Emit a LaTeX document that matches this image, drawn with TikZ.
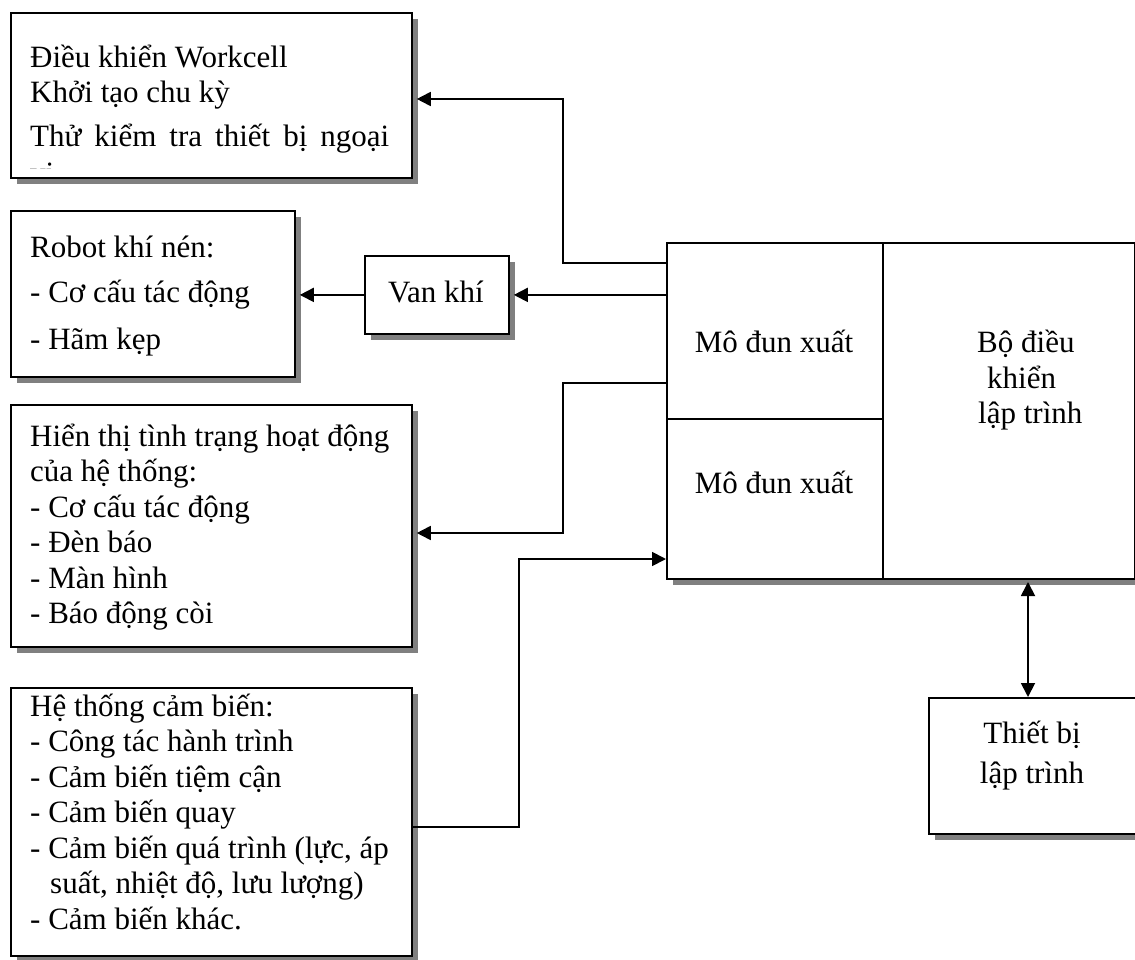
\documentclass[tikz,border=0pt]{standalone}
\usepackage{fontspec}
\setmainfont{Liberation Serif}
\usetikzlibrary{arrows.meta,shadows}
\definecolor{shadowgray}{HTML}{808080}
\begin{document}
\begin{tikzpicture}[x=1pt,y=-1pt,
  every node/.style={font=\fontsize{31}{36}\selectfont},
  box/.style={draw, line width=1.8pt, fill=white, inner sep=0pt, anchor=north west,
    drop shadow={opacity=1, fill=shadowgray, shadow xshift=6pt, shadow yshift=-6pt}},
  cell/.style={draw, line width=1.8pt, inner sep=0pt, anchor=north west},
  t/.style={anchor=base west, inner sep=0pt},
  tc/.style={anchor=base, inner sep=0pt},
  arr/.style={line width=1.8pt, -{Triangle[length=14pt,width=14pt]}},
  darr/.style={line width=1.8pt, {Triangle[length=14pt,width=14pt]}-{Triangle[length=14pt,width=14pt]}}]
\useasboundingbox (0,0) rectangle (1135,960);

% boxes
\node[box, minimum width=401pt, minimum height=165pt] (b1) at (10,12) {};
\node[box, minimum width=284pt, minimum height=166pt] (robot) at (10,210) {};
\node[box, minimum width=144pt, minimum height=78pt] (van) at (364,255) {};
\node[box, minimum width=401pt, minimum height=242pt] (b3) at (10,404) {};
\node[box, minimum width=401pt, minimum height=268pt] (b4) at (10,687) {};
\node[box, minimum width=468pt, minimum height=336pt] (plc) at (666,242) {};
\node[cell, minimum width=216pt, minimum height=176pt] (outA) at (666,242) {};
\node[cell, minimum width=216pt, minimum height=160pt] (outB) at (666,418) {};
\node[cell, minimum width=252pt, minimum height=336pt] (ctrl) at (882,242) {};
\node[box, minimum width=209pt, minimum height=136pt] (tb) at (928,697) {};

% texts box 1
\node[t] at (30,68) {Điều khiển Workcell};
\node[t] at (30,103) {Khởi tạo chu kỳ};
\node[t] at (30,147) {\makebox[359pt][s]{Thử kiểm tra thiết bị ngoại}};
\begin{scope}
\clip (12,14) rectangle (409,169);
\node[t] at (30,184) {vi};
\end{scope}

% robot
\node[t] at (30,257) {Robot khí nén:};
\node[t] at (30,302) {- Cơ cấu tác động};
\node[t] at (30,349) {- Hãm kẹp};

% van
\node[tc] at (436,302) {Van khí};

% box 3
\node[t] at (30,446) {Hiển thị tình trạng hoạt động};
\node[t] at (30,481.5) {của hệ thống:};
\node[t] at (30,517) {- Cơ cấu tác động};
\node[t] at (30,552.5) {- Đèn báo};
\node[t] at (30,588) {- Màn hình};
\node[t] at (30,623.5) {- Báo động còi};

% box 4
\node[t] at (30,716) {Hệ thống cảm biến:};
\node[t] at (30,751.5) {- Công tác hành trình};
\node[t] at (30,787) {- Cảm biến tiệm cận};
\node[t] at (30,822.5) {- Cảm biến quay};
\node[t] at (30,858) {- Cảm biến quá trình (lực, áp};
\node[t] at (50,893.5) {suất, nhiệt độ, lưu lượng)};
\node[t] at (30,929) {- Cảm biến khác.};

% main
\node[tc] at (774,352) {Mô đun xuất};
\node[tc] at (774,493) {Mô đun xuất};
\node[t] at (977,352) {Bộ điều};
\node[t] at (987,388) {khiển};
\node[t] at (978,423) {lập trình};

% thiet bi
\node[tc] at (1032,743) {Thiết bị};
\node[tc] at (1032,783) {lập trình};

% connectors
\coordinate (k1) at (563,99);
\coordinate (k3) at (563,533);
\coordinate (k4) at (519,827);
\coordinate (k5) at (519,559);
\coordinate (k6) at (1028,582);

\draw[arr] ([yshift=-21pt]outA.north west) -| (k1) -- ([xshift=4pt]b1.east |- k1);
\draw[arr] (outA.west |- van.east) -- ([xshift=4pt]van.east);
\draw[arr] (van.west) -- ([xshift=4pt]robot.east |- van.west);
\draw[arr] ([yshift=-141pt]outA.north west) -| (k3) -- ([xshift=4pt]b3.east |- k3);
\draw[arr] (b4.east |- k4) -- (k4) -- (k5) -- (outB.west |- k5);
\draw[darr] (k6) -- (k6 |- tb.north);
\end{tikzpicture}
\end{document}
